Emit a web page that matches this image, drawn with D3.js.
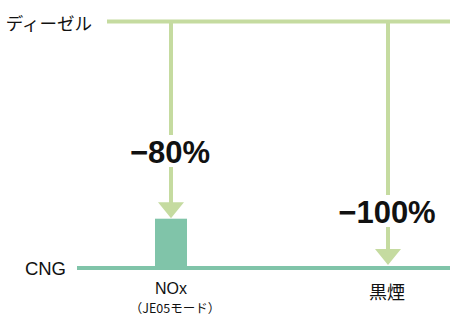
<!DOCTYPE html>
<html><head><meta charset="utf-8">
<script src="https://cdn.jsdelivr.net/npm/d3@7"></script>
<style>
html,body{margin:0;padding:0;background:#fff;}
svg{display:block;}
text{font-family:"Liberation Sans","Noto Sans CJK JP",sans-serif;fill:#111;}
.jp{font-family:"Noto Sans CJK JP",sans-serif;}
</style></head>
<body>
<script>
// ---- data ----
const categories = ["NOx", "黒煙"];
const subLabels = ["（JE05モード）", ""];
const seriesNames = ["ディーゼル", "CNG"];
const dieselValues = [100, 100];
const cngValues = [20, 0];
const reductionLabels = ["−80%", "−100%"];

// ---- layout ----
const W = 450, H = 320;
const svg = d3.select("body").append("svg").attr("width", W).attr("height", H);

const x = d3.scalePoint().domain(categories).range([171, 388]);
const y = d3.scaleLinear().domain([0, 100]).range([268, 21.5]);

const dieselColor = "#c5dba0";
const cngColor = "#80c4a9";

// baseline lines
svg.append("line").attr("x1", 107).attr("x2", W)
  .attr("y1", y(100)).attr("y2", y(100))
  .attr("stroke", dieselColor).attr("stroke-width", 4);
svg.append("line").attr("x1", 77).attr("x2", W)
  .attr("y1", y(0)).attr("y2", y(0))
  .attr("stroke", cngColor).attr("stroke-width", 4);

// series labels
svg.append("text").attr("class", "jp").attr("x", 92).attr("y", y(100) + 8.5)
  .attr("text-anchor", "end").attr("font-size", 17.5).text(seriesNames[0]);
svg.append("text").attr("x", 66).attr("y", y(0) + 7)
  .attr("text-anchor", "end").attr("font-size", 18.5).text(seriesNames[1]);

// CNG bars
const barW = 32;
svg.selectAll("rect.bar").data(categories.map((c, i) => ({c, v: cngValues[i]})))
  .join("rect").attr("class", "bar")
  .attr("x", d => x(d.c) - barW / 2).attr("width", barW)
  .attr("y", d => y(d.v)).attr("height", d => y(0) - y(d.v))
  .attr("fill", cngColor);

// arrows
const headH = 16, headW = 26;
const labelY = [151, 211];
categories.forEach((c, i) => {
  const cx = x(c);
  const top = y(dieselValues[i]);
  const tip = y(cngValues[i]) - (cngValues[i] === 0 ? 3 : 0.5);
  svg.append("line").attr("x1", cx).attr("x2", cx)
    .attr("y1", top).attr("y2", tip - headH + 1)
    .attr("stroke", dieselColor).attr("stroke-width", 4);
  svg.append("path")
    .attr("d", `M${cx - headW / 2},${tip - headH}L${cx + headW / 2},${tip - headH}L${cx},${tip}Z`)
    .attr("fill", dieselColor);
  // gap for label
  svg.append("rect").attr("x", cx - 6).attr("width", 12)
    .attr("y", labelY[i] - 16).attr("height", 32).attr("fill", "#fff");
  svg.append("text").attr("x", cx - 1).attr("y", labelY[i] + 11.5)
    .attr("text-anchor", "middle").attr("font-size", 31).attr("font-weight", "bold")
    .text(reductionLabels[i]);
});

// category labels
categories.forEach((c, i) => {
  const cx = x(c);
  if (subLabels[i]) {
    svg.append("text").attr("x", cx).attr("y", 294).attr("text-anchor", "middle")
      .attr("font-size", 16).text(c);
    svg.append("text").attr("class", "jp").attr("x", cx + 4).attr("y", 313).attr("text-anchor", "middle")
      .attr("font-size", 12.5).text(subLabels[i]);
  } else {
    svg.append("text").attr("class", "jp").attr("x", cx - 1).attr("y", 299).attr("text-anchor", "middle")
      .attr("font-size", 18).text(c);
  }
});
</script>
</body></html>
